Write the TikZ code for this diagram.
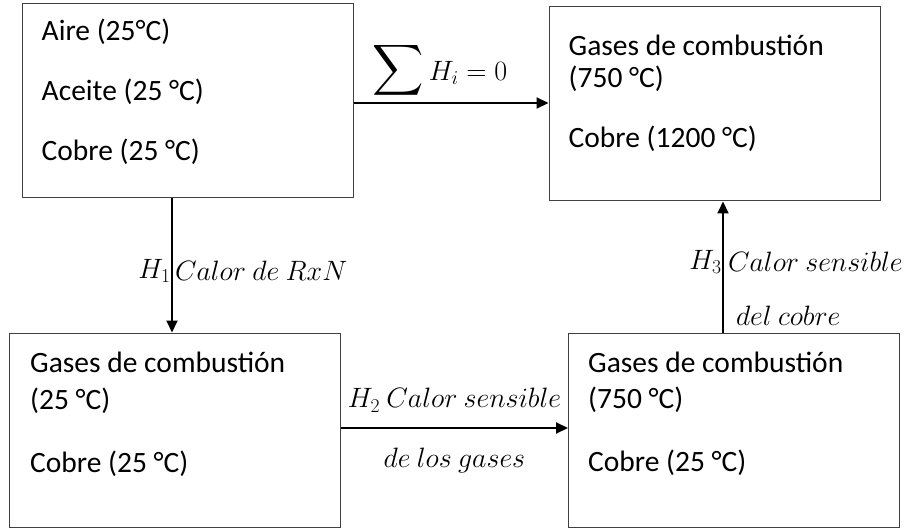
\RequirePackage{fix-cm}
\documentclass[tikz,border=0pt]{standalone}
\usepackage{fontspec}
\setmainfont{Carlito}
\usepackage{amsmath}
\usetikzlibrary{arrows.meta,positioning,calc}
\definecolor{bordegris}{HTML}{404040}
\newcommand{\sumagrande}{\mathop{\scalebox{1.43}{$\displaystyle\sum$}}}

\begin{document}
\begin{tikzpicture}[x=1pt,y=-1pt,font=\fontsize{29.5}{35}\selectfont]
        \tikzstyle{caja}=[draw=bordegris,line width=1pt,minimum width=331pt,minimum height=194pt,inner sep=0pt]
        \tikzstyle{txt}=[anchor=west,inner sep=0pt]
        \tikzstyle{flecha}=[line width=2pt,-{Triangle[length=12pt,width=11pt]}]
        \tikzstyle{etq}=[inner sep=2pt,font=\fontsize{28}{34}\selectfont]
        \useasboundingbox (0,0) rectangle (917,529);
        \node[caja] (inicial) at (187.5,100.5) {};
        \node[caja] (final) at (714.5,104) {};
        \node[caja] (gases25) at (175,430) {};
        \node[caja] (gases750) at (734,430) {};
        % Contenido de cada caja
        \node[txt] (ini1) at ($(inicial.north west)+(20,29)$) {Aire (25°C)};
        \node[txt] (ini2) at ($(inicial.north west)+(20,89)$) {Aceite (25 °C)};
        \node[txt] (ini3) at ($(inicial.north west)+(20,149)$) {Cobre (25 °C)};
        \node[txt] (fin1) at ($(final.north west)+(20,39)$) {Gases de combustión};
        \node[txt] (fin2) at ($(final.north west)+(20,72)$) {(750 °C)};
        \node[txt] (fin3) at ($(final.north west)+(20,132)$) {Cobre (1200 °C)};
        \node[txt] (ga1) at ($(gases25.north west)+(21,30)$) {Gases de combustión};
        \node[txt] (ga2) at ($(gases25.north west)+(21,68)$) {(25 °C)};
        \node[txt] (ga3) at ($(gases25.north west)+(21,131)$) {Cobre (25 °C)};
        \node[txt] (gb1) at ($(gases750.north west)+(20,30)$) {Gases de combustión};
        \node[txt] (gb2) at ($(gases750.north west)+(20,67)$) {(750 °C)};
        \node[txt] (gb3) at ($(gases750.north west)+(20,130)$) {Cobre (25 °C)};
        % Flechas con sus calores
        \draw[flecha] ([yshift=-2.5pt]inicial.east) -- ([yshift=-2.5pt]inicial.east -| final.west)
          node[midway,above=1pt,xshift=-11pt,etq] {$\sumagrande H_i = 0$};
        \draw[flecha] ([xshift=-15.5pt]inicial.south) -- ([xshift=-15.5pt]inicial.south |- gases25.north)
          node[pos=0.54,left,etq,inner sep=0.5pt] {$H_1$}
          node[pos=0.54,right,etq] {$Calor\ de\ RxN$};
        \draw[flecha] ([yshift=2pt]gases25.east) -- ([yshift=2pt]gases25.east -| gases750.west)
          node[midway,above,etq,yshift=13pt] {$H_2\ Calor\ sensible$}
          node[midway,below,etq,yshift=-17pt] {$de\ los\ gases$};
        \draw[flecha] ([xshift=-11pt]gases750.north) -- ([xshift=-11pt]gases750.north |- final.south)
          node[pos=0.54,left,etq,inner sep=0.5pt] {$H_3$}
          node[pos=0.54,right,etq,xshift=2pt] {$Calor\ sensible$}
          node[pos=0.13,right,etq,xshift=10pt] {$del\ cobre$};
\end{tikzpicture}
\end{document}
